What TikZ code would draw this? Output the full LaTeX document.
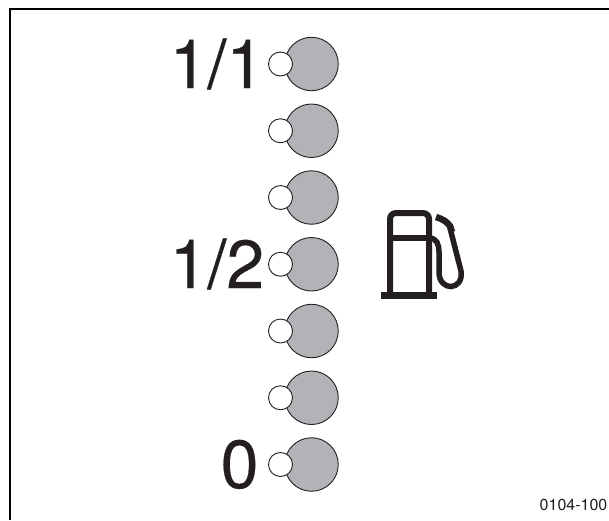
\documentclass[tikz,border=0pt]{standalone}
\usepackage{fontspec}
\setmainfont{TeX Gyre Heros}
\newfontfamily\levelfont[FakeBold=0.4]{TeX Gyre Heros}
\usetikzlibrary{positioning}
\definecolor{lampgray}{RGB}{178,179,182}
\definecolor{inkblack}{RGB}{35,31,32}

\begin{document}
\begin{tikzpicture}[
  x=1pt, y=-1pt,
  node distance=12.35pt,
  lamp/.style={draw=inkblack, circle, fill=lampgray, line width=0.9pt,
               minimum size=53.5pt, inner sep=0pt},
  led/.style={draw=inkblack, circle, fill=white, line width=0.9pt,
              minimum size=24pt, inner sep=0pt},
  level/.style={font=\levelfont\fontsize{68}{68}\selectfont, text=inkblack,
                inner sep=0pt, anchor=base west},
  pump/.style={draw=inkblack, line width=6pt}
]
\useasboundingbox (0,0) rectangle (609,520);
% frame
\draw[black, line width=2.2pt] (10,520) -- (10,9) -- (609,9);
% fuel lamps
\node[lamp] (full) at (311.5,64) {};
\node[lamp, below=of full] (lampb) {};
\node[lamp, below=of lampb] (lampc) {};
\node[lamp, below=of lampc] (half) {};
\node[lamp, below=of half] (lampe) {};
\node[lamp, below=of lampe] (lampf) {};
\node[lamp, below=of lampf] (empty) {};
\node[led] (ledfull) at ([xshift=-31pt]full.center) {};
\node[led] (ledb) at ([xshift=-31pt]lampb.center) {};
\node[led] (ledc) at ([xshift=-31pt]lampc.center) {};
\node[led] (ledhalf) at ([xshift=-31pt]half.center) {};
\node[led] (lede) at ([xshift=-31pt]lampe.center) {};
\node[led] (ledf) at ([xshift=-31pt]lampf.center) {};
\node[led] (ledempty) at ([xshift=-31pt]empty.center) {};
% labels
\node[level] (lblfull) at (169.5,88) {1/1};
\node[level] (lblhalf) at (169.5,288) {1/2};
\node[level] (lblempty) at (220.5,488) {0};
% pump symbol
\draw[pump, rounded corners=6pt] (390,292) -- (390,213) -- (429,213) -- (429,292);
\draw[pump] (390,238) -- (429,238);
\draw[pump, line width=7pt] (381,295.5) -- (437,295.5);
\draw[pump, line width=5.5pt] (429,238) .. controls (437,238) and (439,245) .. (439,252)
  -- (439,272) .. controls (439,292) and (464,291) .. (461,271)
  -- (450,228);
\draw[pump, line width=6.5pt] (452,232) -- (450,226) .. controls (447,222) and (443,219) .. (436,217);
\node[font=\fontsize{16}{16}\selectfont, text=inkblack, inner sep=0pt, anchor=base east] (code) at (607.5,510) {0104-100};
\end{tikzpicture}
\end{document}
